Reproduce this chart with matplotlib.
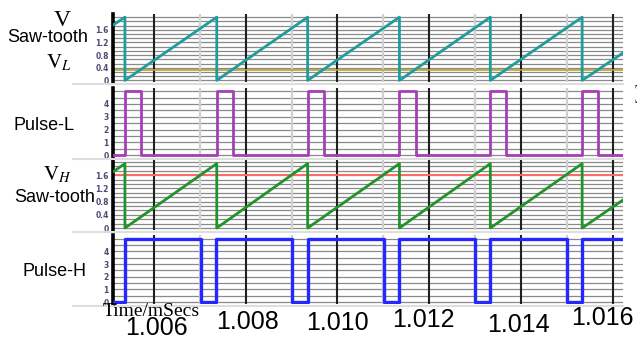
#!/usr/bin/env python3
"""Saw-tooth comparator waveforms: two ramps, their thresholds and pulse outputs."""
import matplotlib

matplotlib.use("Agg")
import matplotlib.pyplot as plt
from matplotlib.lines import Line2D

W, H, DPI = 637, 340, 100

# time axis [ms]
T_MIN, T_MAX = 1.00511, 1.01622
x_ticks = [1.006, 1.008, 1.010, 1.012, 1.014, 1.016]
x_tick_labels = ["1.006", "1.008", "1.010", "1.012", "1.014", "1.016"]
light_lines = [1.007, 1.009, 1.011, 1.013, 1.015]

# saw-tooth breakpoints
saw_t = [1.00511, 1.00537, 1.00537, 1.00737, 1.00737, 1.00935, 1.00935,
         1.01135, 1.01135, 1.01333, 1.01333, 1.01533, 1.01533, 1.01622]
saw_l_v = [1.75, 2.0, 0.0, 2.0, 0.0, 2.0, 0.0, 2.0, 0.0, 2.0, 0.0, 2.0, 0.0, 0.87]
saw_h_v = [1.70, 1.95, 0.0, 1.95, 0.0, 1.95, 0.0, 1.95, 0.0, 1.95, 0.0, 1.95, 0.0, 0.85]
V_L = 0.33
V_H = 1.6

# pulse edges [ms]
pulse_l_on = [1.00537, 1.00737, 1.00935, 1.01135, 1.01333, 1.01533]
pulse_l_off = [1.00572, 1.00772, 1.00970, 1.01170, 1.01367, 1.01567]
pulse_h_on = [1.00537, 1.00735, 1.00935, 1.01133, 1.01333, 1.01533]
pulse_h_off = [1.00702, 1.00902, 1.01102, 1.01300, 1.01500]
PULSE_AMP = 5.0

saw_ticks = [0, 0.4, 0.8, 1.2, 1.6]
saw_tick_labels = ["0", "0.4", "0.8", "1.2", "1.6"]
pulse_ticks = [0, 1, 2, 3, 4]
pulse_tick_labels = ["0", "1", "2", "3", "4"]


def step_series(on, off, amp):
    ts, vs = [T_MIN], [0.0]
    edges = sorted([(t, amp) for t in on] + [(t, 0.0) for t in off])
    level = 0.0
    for t, new in edges:
        ts += [t, t]
        vs += [level, new]
        level = new
    ts.append(T_MAX)
    vs.append(level)
    return ts, vs


def panel(fig, top_px, bottom_px):
    left, right = 113, 623
    return fig.add_axes([left / W, 1 - bottom_px / H, (right - left) / W,
                         (bottom_px - top_px) / H])


def style(ax, ylim, grid_step, ticks, labels):
    ax.set_xlim(T_MIN, T_MAX)
    ax.set_ylim(*ylim)
    y = 0.0
    while y <= ylim[1] + 1e-9:
        ax.axhline(y, color="#8a8a8a", lw=0.9, zorder=1)
        y += grid_step
    for t in light_lines:
        ax.axvline(t, color="#d0d0d0", lw=1.6, zorder=1)
    for t in x_ticks:
        ax.axvline(t, color="#202020", lw=1.5, zorder=1)
    for side in ("top", "right", "bottom"):
        ax.spines[side].set_visible(False)
    ax.spines["left"].set_linewidth(2.6)
    ax.spines["left"].set_color("black")
    ax.set_yticks(ticks, labels)
    ax.tick_params(axis="y", length=0, pad=3, labelsize=5.5, labelcolor="#4b4b78")
    for lbl in ax.get_yticklabels():
        lbl.set_fontweight("bold")
    ax.set_xticks([])
    ax.patch.set_alpha(0)


def main():
    plt.rcParams["mathtext.fontset"] = "stix"
    fig = plt.figure(figsize=(W / DPI, H / DPI), dpi=DPI)

    ax1 = panel(fig, 14, 82)
    style(ax1, (-0.05, 2.1), 0.4 / 3, saw_ticks, saw_tick_labels)
    ax1.axhline(V_L, color="#b5a224", lw=1.2, zorder=2)
    ax1.plot(saw_t, saw_l_v, color="#1f9c9c", lw=2.0, zorder=3)

    ax2 = panel(fig, 88, 157)
    style(ax2, (-0.15, 5.25), 0.5, pulse_ticks, pulse_tick_labels)
    ts, vs = step_series(pulse_l_on, pulse_l_off, PULSE_AMP)
    ax2.plot(ts, vs, color="#a53fb5", lw=2.0, zorder=3)

    ax3 = panel(fig, 160, 230)
    style(ax3, (-0.06, 2.06), 0.4 / 3, saw_ticks, saw_tick_labels)
    ax3.axhline(V_H, color="#ff6a6a", lw=1.4, zorder=2)
    ax3.plot(saw_t, saw_h_v, color="#22922a", lw=2.0, zorder=3)

    ax4 = panel(fig, 235, 304)
    style(ax4, (-0.15, 5.3), 0.5, pulse_ticks, pulse_tick_labels)
    ts, vs = step_series(pulse_h_on, pulse_h_off, PULSE_AMP)
    ax4.plot(ts, vs, color="#2626ff", lw=2.4, zorder=3)

    # big time labels, slightly scattered as in the source
    offsets = [(3, -24), (2, -18), (0, -19), (-6, -16), (-3, -21), (-11, -14)]
    for t, text, (dx, dy) in zip(x_ticks, x_tick_labels, offsets):
        ax4.annotate(text, xy=(t, 0), xycoords=("data", "axes fraction"),
                     xytext=(dx, dy), textcoords="offset pixels", ha="center",
                     va="center", fontsize=18, family="Liberation Sans",
                     annotation_clip=False)

    # panel separators
    for y in (84, 159, 232, 306):
        fig.add_artist(Line2D([73 / W, 623 / W], [1 - y / H, 1 - y / H],
                              color="#dedede", lw=1.5))

    serif = "Liberation Serif"
    sans = "Liberation Sans"
    fig.text(62 / W, 1 - 20 / H, "V", fontsize=17, family=serif, ha="center", va="center")
    fig.text(48 / W, 1 - 38 / H, "Saw-tooth", fontsize=13, family=sans, ha="center", va="center")
    fig.text(59 / W, 1 - 63 / H, r"$\mathrm{V}_{L}$", fontsize=15, ha="center", va="center")
    fig.text(44 / W, 1 - 126 / H, "Pulse-L", fontsize=13, family=sans, ha="center", va="center")
    fig.text(57 / W, 1 - 175 / H, r"$\mathrm{V}_{H}$", fontsize=15, ha="center", va="center")
    fig.text(55 / W, 1 - 197 / H, "Saw-tooth", fontsize=13, family=sans, ha="center", va="center")
    fig.text(54 / W, 1 - 272 / H, "Pulse-H", fontsize=13, family=sans, ha="center", va="center")
    fig.text(151 / W, 1 - 312 / H, "Time/mSecs", fontsize=14, family=serif,
             ha="center", va="center", stretch="condensed")

    # clipped axis title bits on the right edge
    fig.text(640 / W, 1 - 95 / H, "[V]", fontsize=11, family=serif, rotation=270,
             ha="center", va="center")
    fig.text(640 / W, 1 - 168 / H, "Vo", fontsize=11, family=serif, rotation=270,
             ha="center", va="center")

    fig.savefig("out.png", dpi=DPI)
    plt.close(fig)


if __name__ == "__main__":
    main()
